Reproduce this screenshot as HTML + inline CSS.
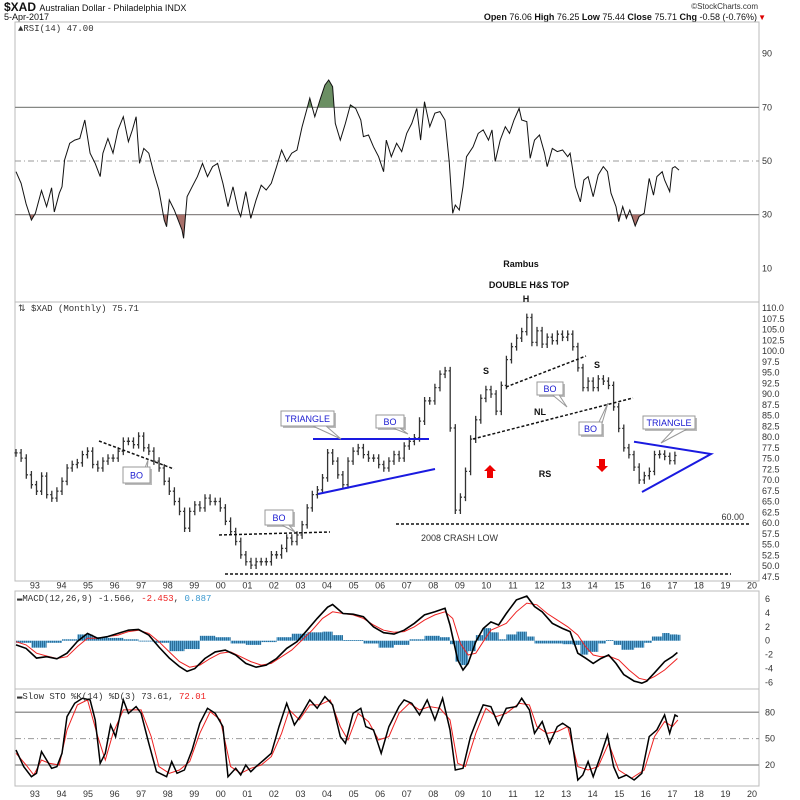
<!DOCTYPE html>
<html><head><meta charset="utf-8">
<style>
body{margin:0;background:#fff;}
svg{display:block;font-family:"Liberation Sans",sans-serif;}
.ax{font-size:9px;fill:#333;}
.ann{font-size:9px;font-weight:bold;fill:#111;}
.bo{font-size:9px;fill:#1a1ad0;}
</style></head>
<body>
<svg id="c" width="800" height="800" viewBox="0 0 800 800" xmlns="http://www.w3.org/2000/svg">
<defs>
<pattern id="hp" width="2" height="4" patternUnits="userSpaceOnUse"><rect width="2" height="4" fill="#5aa6d4"/><rect width="0.8" height="4" fill="#1f5f8a"/></pattern>
</defs>
<rect width="800" height="800" fill="#fff"/>
<text x="4" y="11" font-size="12" font-weight="bold" fill="#111">$XAD <tspan font-size="9" font-weight="normal">Australian Dollar - Philadelphia INDX</tspan></text>
<text x="4" y="20" font-size="9" fill="#111">5-Apr-2017</text>
<text x="758" y="9" font-size="8" fill="#333" text-anchor="end">©StockCharts.com</text>
<text x="757" y="20" font-size="9" fill="#111" text-anchor="end"><tspan font-weight="bold">Open</tspan> 76.06 <tspan font-weight="bold">High</tspan> 76.25 <tspan font-weight="bold">Low</tspan> 75.44 <tspan font-weight="bold">Close</tspan> 75.71 <tspan font-weight="bold">Chg</tspan> -0.58 (-0.76%)</text>
<text x="766" y="20" font-size="8" fill="#d00" text-anchor="end">▼</text>
<g id="g"></g>
</svg>
<script>
// ---------- DATA ----------
const rsiYears=[92.29,92.48,92.67,92.87,93.02,93.25,93.44,93.63,93.73,93.92,94.02,94.12,94.31,94.5,94.69,94.88,95.08,95.27,95.46,95.56,95.75,95.94,96.13,96.33,96.52,96.67,96.81,96.94,97.1,97.29,97.48,97.67,97.87,97.96,98.06,98.25,98.54,98.6,98.73,98.92,99.12,99.31,99.5,99.69,99.88,100.08,100.27,100.46,100.65,100.75,100.94,101.13,101.33,101.52,101.71,101.9,102.1,102.29,102.48,102.67,102.87,103.06,103.25,103.35,103.54,103.73,103.92,104.06,104.21,104.31,104.5,104.69,104.88,105.08,105.27,105.37,105.56,105.75,105.94,106.13,106.23,106.42,106.62,106.81,107,107.19,107.38,107.52,107.67,107.87,108.06,108.25,108.44,108.6,108.73,108.83,108.98,109.12,109.25,109.5,109.69,109.88,110.08,110.21,110.33,110.52,110.71,110.87,111.04,111.23,111.33,111.52,111.65,111.81,112,112.19,112.29,112.48,112.67,112.87,113.06,113.15,113.35,113.54,113.67,113.83,114.02,114.21,114.4,114.56,114.69,114.88,114.98,115.13,115.27,115.4,115.6,115.75,115.94,116.13,116.29,116.42,116.62,116.71,116.9,117,117.1,117.25];
const rsiValues=[46,41.7,34,28,30.5,39,33,40,31,38,40.4,50.4,56.6,57.8,58.4,65.3,52.9,49.1,44.2,52.9,58.4,52.9,61.6,66.5,57.2,61.6,66.5,49.1,54.7,52.9,45.4,39.2,28,25.5,35.5,31.7,24.3,21.2,36.7,40.4,44.2,49.1,44.2,47.9,49.1,41.7,33,40.4,31.7,29.3,38.6,28.6,35.5,41,39.2,41.7,47.9,54.1,49.8,52.9,54.1,62.8,69.6,73.4,66.5,72.7,78.3,80.2,77.7,64,57.8,64,70.9,69.6,65.3,59.1,59.7,55.3,51.6,46,57.8,51.6,56.6,53.5,60.3,64,69.6,57.8,72.1,62.8,67.8,68.4,65.3,49.8,30.5,33.6,31.7,40.4,51.6,55.3,60.3,61.6,57.8,61.6,49.8,57.8,62.8,60.3,65.3,69.6,65.3,64.7,51,57.8,59.7,52.9,47.9,54.7,53.5,54.1,51.6,52.9,40.4,34.8,42.9,44.2,36.7,44.8,47.9,46,38,33,27.4,33,28.6,31.7,25.8,29.3,30.5,43.5,37.3,44.2,46,42.9,38.6,47.3,47.9,46.6];
const rsiTicks=[90,70,50,30,10];

const priceStart=92.29, priceStep=0.1923;
const priceCloses=[76.3,75.1,71.2,68.9,67.4,70.9,66.6,65.8,67.4,69.7,72.8,73.6,74,75.9,76.7,73.6,72.8,74.4,75.1,75.1,76.7,79,79,78.2,80.2,77.5,76.7,74.4,72.8,69.7,67.4,65,62.7,58.8,62.7,64.2,63.5,65.8,65,65,63.5,60.4,58,55.7,52.6,51,50.2,51,51,51,52.6,52.6,54.1,56.5,55.7,57.2,59.6,63.5,66.6,67.7,70.5,76.3,74.4,71.2,68.9,74.4,76.7,77.5,75.9,75.1,75.1,73.6,72.8,74.4,75.9,75.1,77.9,79,79.8,83.7,88.4,88.4,91.5,94.6,95.4,82.1,63,66,72,79.5,84,89,91,90,86,92,98,101,103,104.5,107.8,102,104.7,101.6,103.2,102.4,103.9,103.2,103.9,101,96.1,91.5,93,91.5,93.5,93,92,87,82,77.5,75.9,73,70,71,72,75.9,76,75.5,74.5,75.7];
const priceTicks=[110,107.5,105,102.5,100,97.5,95,92.5,90,87.5,85,82.5,80,77.5,75,72.5,70,67.5,65,62.5,60,57.5,55,52.5,50,47.5];

const macdYears=[92.29,92.67,93.06,93.44,93.83,94.21,94.6,94.98,95.37,95.75,96.13,96.52,96.9,97.29,97.67,98.06,98.44,98.73,99.02,99.4,99.79,100.17,100.56,100.94,101.33,101.71,102.1,102.48,102.87,103.25,103.63,104.02,104.21,104.6,104.98,105.37,105.75,106.13,106.52,106.9,107.29,107.67,108.06,108.44,108.63,108.92,109.12,109.31,109.6,109.88,110.17,110.46,110.75,111.13,111.52,111.81,112.1,112.48,112.87,113.15,113.44,113.73,114.02,114.31,114.6,114.88,115.17,115.56,115.85,116.04,116.33,116.71,117,117.19];
const macdValues=[-0.6,-1.1,-2.5,-2.3,-2.6,-1.8,-0.1,1.05,0.35,0.6,1.05,1.5,1.6,0.8,-0.9,-2.5,-3.7,-4.4,-4,-2.55,-1.6,-1.35,-2.05,-3.25,-3.8,-3.5,-2.55,-1.1,-0.15,1.5,3.2,4.8,5.2,3.9,3.8,3.45,2,1.15,0.95,1.5,2.5,3.7,4.15,4.65,2.25,-2.75,-4.2,-3.25,-0.15,1.75,2.7,2.25,3.9,5.85,6.4,4.9,4.15,2.5,1.75,1.3,-1.8,-2.5,-3.25,-2.55,-2.05,-3.25,-4.85,-5.8,-6.1,-5.8,-4.6,-3,-2.3,-1.7];
const signalYears=[92.29,92.67,93.06,93.44,93.83,94.21,94.6,94.98,95.37,95.75,96.13,96.52,96.9,97.29,97.67,98.06,98.44,98.83,99.21,99.6,99.98,100.37,100.75,101.13,101.52,101.9,102.29,102.67,103.06,103.44,103.83,104.21,104.6,104.98,105.37,105.75,106.13,106.52,106.9,107.29,107.67,108.06,108.44,108.73,109.02,109.31,109.6,109.88,110.17,110.46,110.75,111.13,111.52,111.9,112.29,112.67,113.06,113.44,113.73,114.02,114.31,114.6,114.98,115.37,115.75,116.04,116.33,116.71,117.19];
const signalValues=[-0.15,-0.6,-1.8,-2.2,-2.55,-2.3,-0.85,0.35,0.35,0.6,0.8,1.3,1.5,1.05,-0.15,-1.6,-3,-3.8,-3.5,-2.55,-1.8,-1.6,-2.3,-3,-3.5,-3.25,-2.3,-1.35,0.1,1.5,3.2,4.15,3.9,3.7,3.2,2.25,1.5,1.2,1.3,2,2.95,3.7,4.15,3.2,-0.4,-2.05,-1.8,-0.15,1.5,2,2.5,4.15,5.4,5.15,3.9,2.95,2,0.8,-0.85,-2.05,-2.3,-2.2,-2.75,-4.2,-5.4,-5.65,-5.15,-4.2,-2.55];
const histYears=[92.29,92.87,93.44,94.02,94.6,95.17,95.75,96.33,96.9,97.48,98.06,98.63,99.21,99.79,100.37,100.94,101.52,102.1,102.67,103.25,103.83,104.21,104.6,104.98,105.37,105.94,106.52,107.1,107.67,108.25,108.63,108.83,109.02,109.31,109.6,109.88,110.17,110.46,110.75,111.13,111.52,111.81,112.29,112.87,113.25,113.54,113.83,114.21,114.5,114.79,115.08,115.56,115.94,116.23,116.62,116.9,117.19];
const histValues=[-0.3,-1,-0.3,0.2,0.9,0.5,0.4,0.2,0,-0.3,-1.5,-1.2,0.7,0.5,-0.4,-0.6,-0.2,0.5,1,1.2,1.3,0.8,0.1,0.1,-0.4,-1,-0.6,0.2,0.7,0.5,-0.5,-3,-3.5,-1.5,0.8,1.8,1.2,0.2,0.9,1.3,0.6,-0.4,-0.4,-0.5,-0.6,-2,-1.6,-0.4,0.1,-0.6,-1.3,-1,-0.3,0.6,1.1,0.9,0.85];
const macdTicks=[6,4,2,0,-2,-4,-6];

const stoKYears=[92.29,92.58,92.87,93.06,93.25,93.44,93.63,93.83,94.02,94.21,94.5,94.79,95.08,95.27,95.46,95.65,95.85,96.04,96.33,96.52,96.81,97,97.29,97.58,97.96,98.15,98.35,98.63,98.92,99.21,99.5,99.79,100.08,100.27,100.56,100.75,100.94,101.13,101.33,101.62,101.9,102.19,102.48,102.77,103.06,103.35,103.63,103.92,104.21,104.5,104.69,104.98,105.27,105.46,105.75,106.04,106.33,106.71,106.9,107.19,107.48,107.77,108.06,108.35,108.63,108.83,109.12,109.4,109.69,109.88,110.17,110.46,110.75,111.13,111.33,111.62,111.81,112.1,112.38,112.67,112.87,113.15,113.44,113.63,113.83,114.02,114.31,114.56,114.79,114.98,115.27,115.56,115.85,116.13,116.42,116.71,116.9,117.1,117.21];
const stoKValues=[37.1,18.1,6.7,10.5,35.2,25.7,16.2,18.1,33.3,75.1,90.3,96,94.1,71.3,21.9,33.3,65.6,52.3,94.1,78.9,86.5,78.9,44.7,12.4,6.7,23.8,10.5,14.3,37.1,67.5,84.6,78.9,63.7,6.7,16.2,8.6,20,12.4,18.1,25.7,33.3,63.7,90.3,65.6,78.9,94.1,84.6,97.9,88.4,52.3,44.7,78.9,84.6,63.7,59.9,33.3,63.7,86.5,94.1,90.3,77,94.1,71.3,96,59.9,14.3,16.2,52.3,75.1,88.4,86.5,65.6,84.6,86.5,96,82.7,56.1,69.4,44.7,63.7,67.5,61.8,2.9,8.6,23.8,6.7,31.4,54.2,18.1,4.8,8.6,2.9,10.5,52.3,59.9,77,56.1,77,75.1];
const stoDYears=[92.29,92.67,92.96,93.25,93.54,93.92,94.21,94.6,94.98,95.37,95.65,95.94,96.33,96.62,97,97.38,97.67,98.06,98.44,98.83,99.21,99.6,99.98,100.37,100.75,101.13,101.52,101.9,102.29,102.58,102.96,103.35,103.73,104.12,104.5,104.79,105.17,105.56,105.94,106.33,106.71,107.1,107.48,107.87,108.25,108.63,108.92,109.21,109.6,109.98,110.37,110.75,111.23,111.62,111.9,112.29,112.67,113.06,113.44,113.83,114.21,114.6,114.98,115.46,115.94,116.33,116.71,117,117.21];
const stoDValues=[33.3,20,8.6,25.7,21.9,20,59.9,88.4,94.1,52.3,25.7,56.1,82.7,82.7,82.7,52.3,18.1,10.5,14.3,23.8,56.1,80.8,71.3,18.1,10.5,16.2,20,29.5,56.1,82.7,71.3,88.4,88.4,94.1,63.7,48.5,78.9,69.4,48.5,52.3,78.9,90.3,82.7,86.5,84.6,71.3,21.9,18.1,56.1,84.6,75.1,78.9,90.3,88.4,63.7,56.1,58,63.7,18.1,14.3,18.1,44.7,14.3,4.8,14.3,52.3,69.4,63.7,71.3];
const stoTicks=[80,50,20];
const yearLabels=["93","94","95","96","97","98","99","00","01","02","03","04","05","06","07","08","09","10","11","12","13","14","15","16","17","18","19","20"];

// ---------- SCALES ----------
const L=15,R=759;
const xS=y=>34.9+(y-93)*26.56;
const yRsi=v=>161-(v-50)*2.683;
const yPx=v=>308+(110-v)*4.3;
const yMacd=v=>640.7-v*6.97;
const ySto=v=>712.3-(v-80)*0.878;
const NS="http://www.w3.org/2000/svg";
const g=document.getElementById('g');
function mk(t,a,p){const e=document.createElementNS(NS,t);for(const k in a)e.setAttribute(k,a[k]);(p||g).appendChild(e);return e;}
function txt(x,y,s,cls,anchor){const e=mk('text',{x:x,y:y,class:cls||'ax','text-anchor':anchor||'start'});e.textContent=s;return e;}
function pts(xs,vs,fy){return xs.map((x,i)=>xS(x).toFixed(1)+','+fy(vs[i]).toFixed(1)).join(' ');}

// panels
const panels=[['rsi-panel',22,302],['price-panel',302,581],['macd-panel',591,689],['sto-panel',689,786]];
panels.forEach(p=>{const r=mk('rect',{x:L,y:p[1],width:R-L,height:p[2]-p[1],fill:'none',stroke:'#bbb','stroke-width':1});

});

// year axes
[[588.5,'year-axis-top'],[797,'year-axis-bottom']].forEach(a=>{yearLabels.forEach((l,i)=>{const t=txt(xS(93+i),a[0],l,'ax','middle');

});});

// ---------- RSI ----------
rsiTicks.forEach(v=>{const t=txt(762,yRsi(v)+3,String(v));

});
[[70,''],[30,''],[50,'6,3,1,3']].forEach(h=>{const l=mk('line',{x1:L,x2:R,y1:yRsi(h[0]),y2:yRsi(h[0]),stroke:h[1]?'#999':'#888','stroke-width':h[1]?1:1.2,'stroke-dasharray':h[1]});

});
const cp1=mk('clipPath',{id:'ob'});mk('rect',{x:L,y:22,width:R-L,height:yRsi(70)-22},cp1);
const cp2=mk('clipPath',{id:'os'});mk('rect',{x:L,y:yRsi(30),width:R-L,height:302-yRsi(30)},cp2);
const rsiP=pts(rsiYears,rsiValues,yRsi);
const f1=mk('polygon',{points:xS(rsiYears[0])+','+yRsi(70)+' '+rsiP+' '+xS(rsiYears[rsiYears.length-1])+','+yRsi(70),fill:'#6b8f63','clip-path':'url(#ob)'});


const f2=mk('polygon',{points:xS(rsiYears[0])+','+yRsi(30)+' '+rsiP+' '+xS(rsiYears[rsiYears.length-1])+','+yRsi(30),fill:'#a8706a','clip-path':'url(#os)'});


const rl=mk('polyline',{points:rsiP,fill:'none',stroke:'#111','stroke-width':1});


const rt=txt(18,31,'▲RSI(14) 47.00','ax');rt.setAttribute('font-family','Liberation Mono');rt.setAttribute('font-size','8.5');



// ---------- PRICE ----------
priceTicks.forEach(v=>{const t=txt(762,yPx(v)+3,v.toFixed(1));

});
priceCloses.forEach((c,i)=>{const prev=i?priceCloses[i-1]:c;const x=xS(priceStart+i*priceStep);
const hi=Math.max(prev,c)+0.9,lo=Math.min(prev,c)-0.9;
const b=mk('path',{d:`M${x.toFixed(1)},${yPx(hi).toFixed(1)}V${yPx(lo).toFixed(1)}M${(x-1.6).toFixed(1)},${yPx(prev).toFixed(1)}H${x.toFixed(1)}M${x.toFixed(1)},${yPx(c).toFixed(1)}H${(x+1.6).toFixed(1)}`,stroke:'#333','stroke-width':1.3,fill:'none'});

});
const pt=txt(18,311,'⇅ $XAD (Monthly) 75.71','ax');pt.setAttribute('font-family','Liberation Mono');pt.setAttribute('font-size','8.5');



function ln(x1,y1,x2,y2,col,dash,name,w){const l=mk('line',{x1,y1,x2,y2,stroke:col,'stroke-width':w||1.5,'stroke-dasharray':dash||''});

}
ln(99,441,174,469,'#111','3,2','trendline-1997');
ln(219,535,330,532,'#111','3,2','breakout-line-2002');
ln(225,574,731,574,'#111','3,2','support-line-2001-low');
ln(396,524,750,524,'#111','3,2','crash-low-line');
ln(313,439,429,439,'#1a1ae0','','triangle-top-line',2);
ln(318,494,435,469,'#1a1ae0','','triangle-bottom-line',2);
ln(506,387,586,356,'#111','3,2','right-shoulder-line');
ln(473,439,633,398,'#111','3,2','neckline');
const tri=mk('polyline',{points:'634,441.7 711,454 642,492',fill:'none',stroke:'#1a1ae0','stroke-width':2});



function callout(x,y,w,h,px,py,label,name){
 const gg=mk('g',{});
 
 
 mk('rect',{x:x+2,y:y+2,width:w,height:h,fill:'#bbb'},gg);
 mk('polygon',{points:`${x+w*0.6},${y+h} ${px},${py} ${x+w*0.85},${y+h}`,fill:'#fff',stroke:'#999'},gg);
 mk('rect',{x:x,y:y,width:w,height:h,fill:'#fff',stroke:'#999'},gg);
 const t=mk('text',{x:x+w/2,y:y+h/2+3.5,class:'bo','text-anchor':'middle'},gg);t.textContent=label;}
callout(123,467,27,16,148,460,'BO','bo-callout-1997');
callout(281,411,53,15,341,439,'TRIANGLE','triangle-callout-2004');
callout(376,415,28,13,408,434,'BO','bo-callout-2007');
callout(265,510,28,15,295,532,'BO','bo-callout-2003');
callout(537,382,26,13,567,407,'BO','bo-callout-2013');
callout(579,422,23,13,608,403,'BO','bo-callout-2014');
callout(643,416,52,13,661,443,'TRIANGLE','triangle-callout-2016');

[[486,374,'S','left-shoulder-label'],[526,302,'H','head-label'],[597,368,'S','right-shoulder-label'],[540,415,'NL','neckline-label'],[545,477,'RS','rs-label'],[521,267,'Rambus','author-label'],[529,288,'DOUBLE H&S TOP','pattern-title']].forEach(a=>{const t=txt(a[0],a[1],a[2],'ann','middle');

});
const cl=txt(421,541,'2008 CRASH LOW','ax');cl.setAttribute('font-size','8.5');


const sl=txt(744,520,'60.00','ax','end');


const ua=mk('polygon',{points:'490,465 496,471 493,471 493,478 487,478 487,471 484,471',fill:'#e00'});


const da=mk('polygon',{points:'602,472 608,466 605,466 605,459 599,459 599,466 596,466',fill:'#e00'});



// ---------- MACD ----------
macdTicks.forEach(v=>{const t=txt(765,yMacd(v)+3,String(v));

});
histYears.forEach((y,i)=>{const x1=xS(y),x2=i<histYears.length-1?xS(histYears[i+1]):x1+3;const v=histValues[i];
const r=mk('rect',{x:x1,y:Math.min(yMacd(v),yMacd(0)),width:x2-x1,height:Math.max(0.8,Math.abs(yMacd(v)-yMacd(0))),fill:'url(#hp)'});

});
const sg=mk('polyline',{points:pts(signalYears,signalValues,yMacd),fill:'none',stroke:'#e22','stroke-width':1});


const ml=mk('polyline',{points:pts(macdYears,macdValues,yMacd),fill:'none',stroke:'#000','stroke-width':1.6});


const mt=mk('text',{x:17,y:601,class:'ax','font-family':'Liberation Mono','font-size':'8.5'});
mt.innerHTML='<tspan>▬MACD(12,26,9) -1.566, </tspan><tspan fill="#e22">-2.453</tspan><tspan>, </tspan><tspan fill="#3d9ad0">0.887</tspan>';



// ---------- STO ----------
stoTicks.forEach(v=>{const t=txt(765,ySto(v)+3,String(v));

});
[[80,''],[20,''],[50,'6,3,1,3']].forEach(h=>{const l=mk('line',{x1:L,x2:R,y1:ySto(h[0]),y2:ySto(h[0]),stroke:'#999','stroke-width':h[1]?1:1.5,'stroke-dasharray':h[1]});

});
const sd=mk('polyline',{points:pts(stoDYears,stoDValues,ySto),fill:'none',stroke:'#e22','stroke-width':1});


const sk=mk('polyline',{points:pts(stoKYears,stoKValues,ySto),fill:'none',stroke:'#000','stroke-width':1.5});


const st=mk('text',{x:17,y:699,class:'ax','font-family':'Liberation Mono','font-size':'8.5'});
st.innerHTML='<tspan>▬Slow STO %K(14) %D(3) 73.61, </tspan><tspan fill="#e22">72.01</tspan>';


</script>
</body></html>
